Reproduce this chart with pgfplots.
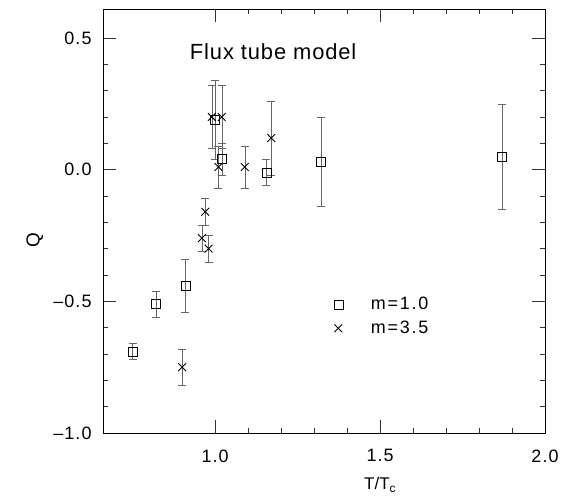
\documentclass[border=0pt]{standalone}
\usepackage{fontspec}
\setmainfont{Liberation Sans}
\usepackage{pgfplots}
\pgfplotsset{compat=1.18}
\begin{document}
\begin{tikzpicture}
\useasboundingbox (-103bp,-64bp) rectangle (462bp,433bp);
\begin{axis}[
  at={(0,0)}, anchor=south west,
  scale only axis, width=442bp, height=424bp,
  xmin=0.66, xmax=2.0, ymin=-1.0, ymax=0.61,
  xtick={1.0,1.5,2.0}, xticklabels={1.0,1.5,2.0},
  ytick={-1.0,-0.5,0.0,0.5}, yticklabels={--1.0,--0.5,0.0,0.5},
  minor x tick num=4, minor y tick num=4,
  tick align=inside,
  major tick length=13bp, minor tick length=5bp,
  tick style={black!80, line width=0.4pt},
  axis line style={line width=0.6pt},
  ticklabel style={font=\fontsize{18}{20}\selectfont\addfontfeature{LetterSpace=6}},
  xticklabel style={yshift=-13bp},
  yticklabel style={xshift=-8bp},
  xlabel={T/T$_{\mathrm{c}}$},
  xlabel style={font=\fontsize{17}{19}\selectfont, at={(rel axis cs:0.627,-0.123)}, anchor=center},
  ylabel={Q},
  ylabel style={font=\fontsize{19}{21}\selectfont, at={(rel axis cs:-0.154,0.455)}, anchor=center},
  legend style={at={(rel axis cs:0.515,0.33)}, anchor=north west, draw=none, fill=none,
    font=\fontsize{18}{20}\selectfont\addfontfeature{LetterSpace=10}, row sep=6bp,
    /tikz/every odd column/.append style={column sep=26bp}},
  legend cell align=left,
  clip=false,
]
\addplot[only marks, mark=square, mark size=4.5bp, black, thin,
  error bars/.cd, y dir=both, y explicit, error bar style={line width=0.4pt, black!60}, error mark options={rotate=90, mark size=4bp, black!60}]
  coordinates {
  (0.75,-0.69) +- (0,0.03)
  (0.82,-0.51) +- (0,0.05)
  (0.91,-0.44) +- (0,0.10)
  (1.00,0.19) +- (0,0.15)
  (1.02,0.04) +- (0,0.06)
  (1.155,-0.01) +- (0,0.05)
  (1.32,0.03) +- (0,0.17)
  (1.87,0.05) +- (0,0.20)
  };
\addlegendentry{m=1.0}
\addplot[only marks, mark=x, mark size=5.5bp, black, line width=0.9pt,
  error bars/.cd, y dir=both, y explicit, error bar style={line width=0.4pt, black!60}, error mark options={rotate=90, mark size=4bp, black!60}]
  coordinates {
  (0.90,-0.75) +- (0,0.07)
  (0.96,-0.26) +- (0,0.05)
  (0.98,-0.30) +- (0,0.05)
  (0.97,-0.16) +- (0,0.05)
  (0.99,0.20) +- (0,0.12)
  (1.02,0.20) +- (0,0.12)
  (1.01,0.01) +- (0,0.08)
  (1.09,0.01) +- (0,0.08)
  (1.17,0.12) +- (0,0.14)
  };
\addlegendentry{m=3.5}
\node[font=\fontsize{22}{24}\selectfont\addfontfeature{LetterSpace=4}] at (rel axis cs:0.385,0.90) {Flux tube model};
\end{axis}
\end{tikzpicture}
\end{document}
